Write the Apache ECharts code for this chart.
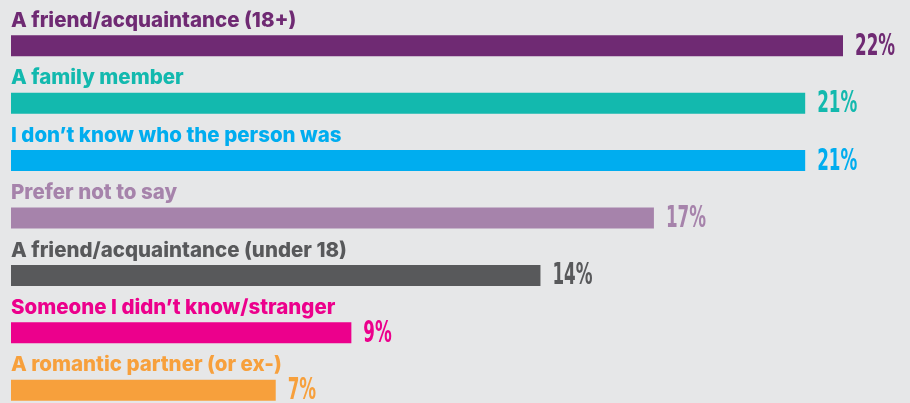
<!DOCTYPE html>
<html>
<head>
<meta charset="utf-8">
<script src="https://cdn.jsdelivr.net/npm/echarts@6/dist/echarts.min.js"></script>
<style>
html, body { margin: 0; padding: 0; background: #e6e7e8; }
#main { width: 910px; height: 403px; }
</style>
</head>
<body>
<div id="main"></div>
<script>
// categories, top to bottom
var categories = [
    'A friend/acquaintance (18+)',
    'A family member',
    'I don\u2019t know who the person was',
    'Prefer not to say',
    'A friend/acquaintance (under 18)',
    'Someone I didn\u2019t know/stranger',
    'A romantic partner (or ex-)'
];
var values = [22, 21, 21, 17, 14, 9, 7];
var colors = ['#6f2a73', '#13b9ae', '#00adef', '#a683ab', '#58595b', '#ec008c', '#f7a03c'];

var chart = echarts.init(document.getElementById('main'));

var option = {
    backgroundColor: '#e6e7e8',
    animation: false,
    grid: { left: 11, right: 67, top: 17, bottom: -16, outerBoundsMode: 'none' },
    xAxis: { type: 'value', min: 0, max: 22, show: false },
    yAxis: { type: 'category', data: categories, inverse: true, show: false },
    series: [
        {
            // bars, with category name above each one
            type: 'bar',
            barWidth: 21,
            data: values.map(function (v, i) {
                return { value: v, itemStyle: { color: colors[i] }, label: { color: colors[i] } };
            }),
            label: {
                show: true,
                position: [0, -25],
                align: 'left',
                verticalAlign: 'top',
                formatter: function (p) { return categories[p.dataIndex]; },
                fontFamily: 'Inter, "Open Sans", sans-serif',
                fontWeight: 800,
                fontSize: 20.5
            }
        },
        {
            // condensed value labels at the bar ends
            type: 'custom',
            data: values.map(function (v, i) { return [v, i]; }),
            renderItem: function (params, api) {
                var i = params.dataIndex;
                var p = api.coord([api.value(0), i]);
                return {
                    type: 'text',
                    x: p[0] + 12,
                    y: p[1] + 1,
                    scaleX: 0.54,
                    style: {
                        text: api.value(0) + '%',
                        font: 'bold 31px "DejaVu Sans"',
                        fill: colors[i],
                        align: 'left',
                        verticalAlign: 'middle'
                    }
                };
            }
        }
    ]
};

chart.setOption(option);
</script>
</body>
</html>
